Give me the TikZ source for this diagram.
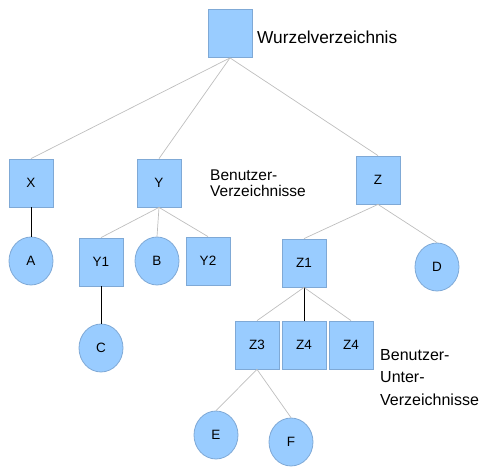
\documentclass[tikz,border=0pt]{standalone}
\usepackage{fontspec}
\setmainfont{Liberation Sans}
\usetikzlibrary{shapes.geometric}
\definecolor{boxfill}{HTML}{99CCFF}
\definecolor{boxline}{HTML}{7FA9D6}
\definecolor{conn}{HTML}{BEBEBE}
\tikzset{
  dirbox/.style={rectangle, fill=boxfill, draw=boxline, line width=0.8pt, minimum width=44pt, minimum height=48pt, inner sep=0pt, font=\fontsize{13.5}{15}\selectfont},
  filenode/.style={ellipse, fill=boxfill, draw=boxline, line width=0.8pt, minimum width=44pt, minimum height=48pt, inner sep=0pt, font=\fontsize{13.5}{15}\selectfont},
  thinlink/.style={draw=conn, line width=0.7pt},
  blacklink/.style={draw=black, line width=1pt},
  lbl/.style={inner sep=0pt, align=left, anchor=base west}
}
\begin{document}
\begin{tikzpicture}[x=1pt,y=-1pt]
\useasboundingbox (0,0) rectangle (482,472);
% directories
\node[dirbox] (root) at (230,33.5) {};
\node[dirbox] (X) at (31,183) {X};
\node[dirbox] (Y) at (159,183) {Y};
\node[dirbox] (Z) at (378,180) {Z};
\node[dirbox] (Y1) at (101,262) {Y1};
\node[dirbox] (Y2) at (208,261) {Y2};
\node[dirbox] (Z1) at (304,263) {Z1};
\node[dirbox] (Z3) at (257,345) {Z3};
\node[dirbox] (Z4) at (304,345) {Z4};
\node[dirbox] (Z4b) at (351,345) {Z4};
% files
\node[filenode] (A) at (31,261) {A};
\node[filenode] (B) at (157,261) {B};
\node[filenode] (C) at (101,348) {C};
\node[filenode] (D) at (437,267) {D};
\node[filenode] (E) at (216,435) {E};
\node[filenode] (F) at (291,442) {F};
% labels
\node[lbl, font=\fontsize{17.3}{20}\selectfont] (wlabel) at (257,43) {Wurzelverzeichnis};
\node[lbl, font=\fontsize{15.5}{15.5}\selectfont] (blabel) at (210,196) {Benutzer-\\Verzeichnisse};
\node[lbl, font=\fontsize{16}{22.5}\selectfont] (ulabel) at (380,405) {Benutzer-\\Unter-\\Verzeichnisse};
% connectors
\draw[thinlink] (root.south) -- (X.north);
\draw[thinlink] (root.south) -- (Y.north);
\draw[thinlink] (root.south) -- (Z.north);
\draw[blacklink] (X.south) -- (A.north);
\draw[thinlink] (Y.south) -- (Y1.north);
\draw[thinlink] (Y.south) -- (B.north);
\draw[thinlink] (Y.south) -- (Y2.north);
\draw[blacklink] (Y1.south) -- (C.north);
\draw[thinlink] (Z.south) -- (Z1.north);
\draw[thinlink] (Z.south) -- (D.north);
\draw[thinlink] (Z1.south) -- (Z3.north);
\draw[blacklink] (Z1.south) -- (Z4.north);
\draw[thinlink] (Z1.south) -- (Z4b.north);
\draw[thinlink] (Z3.south) -- (E.north);
\draw[thinlink] (Z3.south) -- (F.north);
\end{tikzpicture}
\end{document}
